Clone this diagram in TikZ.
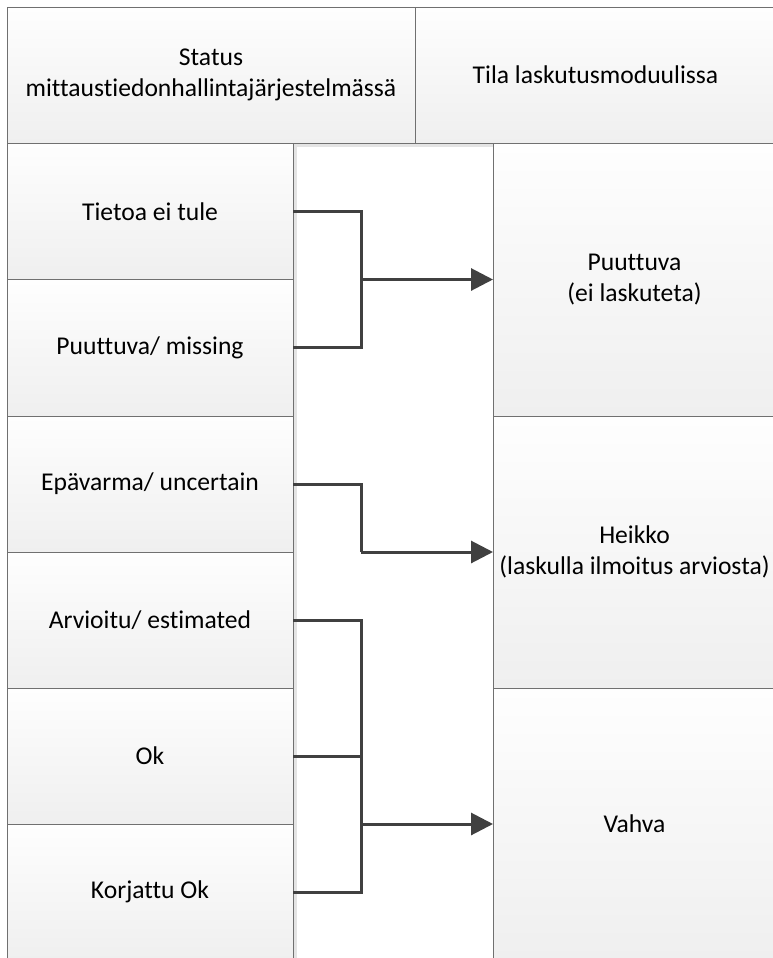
\documentclass[tikz,border=0pt]{standalone}
\usepackage{fontspec}
\setmainfont[Ligatures=NoCommon]{Carlito}
\usetikzlibrary{arrows.meta,shadows}
\definecolor{boxline}{HTML}{707070}
\definecolor{conn}{HTML}{404040}
\definecolor{shadowc}{HTML}{E4E4E4}
\definecolor{cellbot}{HTML}{EFEFEF}
\definecolor{celltop}{HTML}{FEFEFE}
\begin{document}
\begin{tikzpicture}[x=1pt,y=-1pt,
  cell/.style={draw=boxline, line width=0.8pt, top color=celltop, bottom color=cellbot,
    inner sep=0pt, outer sep=0pt, anchor=north west, align=center,
    font=\fontsize{25.6}{31}\selectfont, text=black,
    drop shadow={shadow xshift=4pt, shadow yshift=-4pt, fill=shadowc, opacity=1}},
  conline/.style={draw=conn, line width=3pt},
  conarrow/.style={conline, -{Triangle[length=22pt,width=22pt]}}]
\useasboundingbox (0,0) rectangle (772,958);
\fill[white] (0,0) rectangle (772,958);
% middle white column
\node[draw=shadowc, line width=0.8pt, fill=white, anchor=north west, minimum width=200pt, minimum height=820pt, inner sep=0pt] (mid) at (293,143) {};
% header
\node[cell, minimum width=408pt, minimum height=136pt] (hleft) at (7,7) {Status\\mittaustiedonhallintajärjestelmässä};
\node[cell, minimum width=361pt, minimum height=136pt] (hright) at (415,7) {Tila laskutusmoduulissa};
% left column
\node[cell, minimum width=286pt, minimum height=136.5pt] (tietoa) at (7,143) {Tietoa ei tule};
\node[cell, minimum width=286pt, minimum height=136.5pt] (missing) at (7,279.5) {Puuttuva/ missing};
\node[cell, minimum width=286pt, minimum height=136pt] (epa) at (7,416) {Epävarma/ uncertain};
\node[cell, minimum width=286pt, minimum height=136pt] (arv) at (7,552) {Arvioitu/ estimated};
\node[cell, minimum width=286pt, minimum height=136pt] (ok) at (7,688) {Ok};
\node[cell, minimum width=286pt, minimum height=136pt] (kor) at (7,824) {Korjattu Ok};
% right column
\node[cell, minimum width=283pt, minimum height=273pt] (puut) at (493,143) {Puuttuva\\(ei laskuteta)};
\node[cell, minimum width=283pt, minimum height=272pt] (heikko) at (493,416) {Heikko\\(laskulla ilmoitus arviosta)};
\node[cell, minimum width=283pt, minimum height=272pt] (vahva) at (493,688) {Vahva};
% junctions
\coordinate (j1) at (361,279.5);
\coordinate (j2) at (361,552);
\coordinate (j3) at (361,824);
% connectors
\draw[conline] (tietoa.east) -| (j1);
\draw[conline] (missing.east) -| (j1);
\draw[conarrow] (j1) -- (j1 -| puut.west);
\draw[conline] (epa.east) -| (j2);
\draw[conarrow] (j2) -- (j2 -| heikko.west);
\draw[conline] (arv.east) -| (j3);
\draw[conline] (ok.east) -| (j3);
\draw[conline] (kor.east) -| (j3);
\draw[conarrow] (j3) -- (j3 -| vahva.west);
\end{tikzpicture}
\end{document}
